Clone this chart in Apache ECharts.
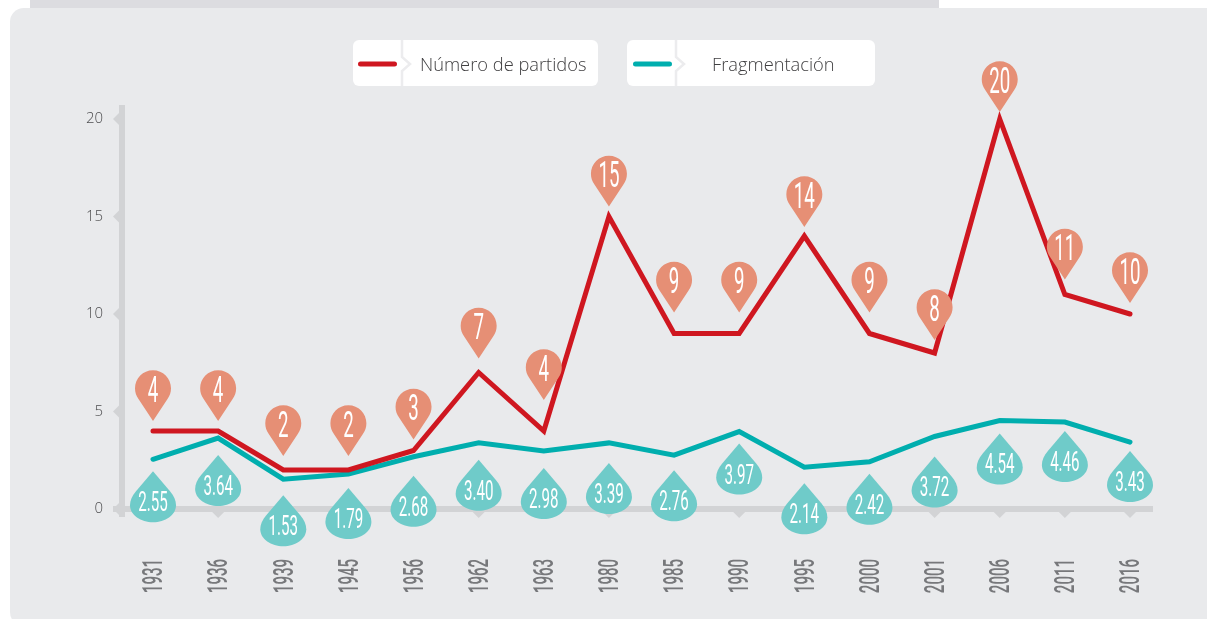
<!DOCTYPE html>
<html>
<head>
<meta charset="utf-8">
<style>html,body{margin:0;padding:0;background:#fff}#c{width:1207px;height:619px}</style>
<script src="https://cdn.jsdelivr.net/npm/echarts@6/dist/echarts.min.js"></script>
</head>
<body>
<div id="c"></div>
<script>
const years = ['1931','1936','1939','1945','1956','1962','1963','1980','1985','1990','1995','2000','2001','2006','2011','2016'];
const partidos = [4,4,2,2,3,7,4,15,9,9,14,9,8,20,11,10];
const fragmentacion = [2.55,3.64,1.53,1.79,2.68,3.40,2.98,3.39,2.76,3.97,2.14,2.42,3.72,4.54,4.46,3.43];
const yTicks = [0,5,10,15,20];
// visual gaps, in px, between the lines and the tip of each marker
const dropGaps = [12,17,16,14,19,17,17,20,15,12,16,12,20,13,9,9];
const pinGaps = [10,10,14,14,11,14,31,10,21,21,9,21,13,7,15,11];

const RED='#cf1720', TEAL='#00aeae', PIN='#e68f75', DROP='#6fcbc9', AXIS='#d2d3d5', PANEL='#e9eaec', GREY='#77787b';
const CONDENSED='Roboto';
const PIN_PATH='M0 0L-14.5 -22C-16.8 -25 -18 -28.5 -18 -32.7C-18 -42.6 -10 -50.7 0 -50.7C10 -50.7 18 -42.6 18 -32.7C18 -28.5 16.8 -25 14.5 -22Z';
const DROP_PATH='M0 0L17 20C21 25 23 29 23 34C23 44 12 51 0 51C-12 51 -23 44 -23 34C-23 29 -21 25 -17 20Z';
const LEGEND_ICON='path://M2.5 0H36.5A2.5 2.5 0 0 1 36.5 5H2.5A2.5 2.5 0 0 1 2.5 0ZM0 9L39 9';

function pinItem(p, api){
  const pt = api.coord([api.value(0), api.value(1)]);
  return {type:'group', x:pt[0], y:pt[1]-pinGaps[p.dataIndex], children:[
    {type:'path', shape:{pathData:PIN_PATH, layout:'cover', x:-18, y:-50.7, width:36, height:50.7}, style:{fill:PIN}},
    {type:'text', x:0, y:-28.5, scaleX:0.52, style:{text:String(partidos[p.dataIndex]), fill:'#fff', font:'400 36px '+CONDENSED, align:'center', verticalAlign:'middle'}}
  ]};
}
function dropItem(p, api){
  const pt = api.coord([api.value(0), api.value(1)]);
  return {type:'group', x:pt[0], y:pt[1]+dropGaps[p.dataIndex], children:[
    {type:'path', shape:{pathData:DROP_PATH, layout:'cover', x:-23, y:0, width:46, height:51}, style:{fill:DROP}},
    {type:'text', x:0, y:33, scaleX:0.54, style:{text:fragmentacion[p.dataIndex].toFixed(2), fill:'#fff', font:'400 28px '+CONDENSED, align:'center', verticalAlign:'middle'}}
  ]};
}
function xTickItem(p, api){
  const pt = api.coord([api.value(0), 0]);
  return {type:'group', x:pt[0], y:pt[1], children:[
    {type:'polygon', shape:{points:[[-6,3],[6,3],[0,9]]}, style:{fill:AXIS}},
    {type:'text', x:2.5, y:67, rotation:Math.PI/2, scaleX:0.56, style:{text:years[p.dataIndex], fill:GREY, font:'500 27px '+CONDENSED, align:'center', verticalAlign:'middle'}}
  ]};
}
function yTickItem(p, api){
  const pt = api.coord([0, api.value(0)]);
  return {type:'polygon', x:pt[0]-34, y:pt[1], shape:{points:[[0,-6],[0,6],[-6,0]]}, style:{fill:AXIS}};
}

const legendText = leftPad => ({color:'#414042', fontFamily:'"Open Sans"', fontWeight:300, fontSize:18.3, padding:[0,0,0,leftPad]});
const chart = echarts.init(document.getElementById('c'), null, {renderer:'canvas'});
const indexed = v => v.map((d,i)=>[i,d]);
chart.setOption({
  animation:false,
  backgroundColor:'#fff',
  grid:{left:153, right:77, top:119, bottom:110},
  xAxis:{type:'category', data:years, boundaryGap:false, axisLine:{show:false}, axisTick:{show:false}, axisLabel:{show:false}},
  yAxis:{type:'value', min:0, max:20, interval:5, splitLine:{show:false}, axisLine:{show:false}, axisTick:{show:false},
    axisLabel:{margin:50, color:'#4d4d4f', fontFamily:'"Open Sans"', fontWeight:300, fontSize:15, padding:[2,0,0,0]}},
  legend:[
    {data:['Número de partidos'], left:353, top:52, icon:LEGEND_ICON, itemWidth:39, itemHeight:9, textStyle:legendText(18)},
    {data:['Fragmentación'], left:628, top:52, icon:LEGEND_ICON, itemWidth:39, itemHeight:9, textStyle:legendText(35)}
  ],
  graphic:[
    {type:'rect', z:-10, shape:{x:30,y:0,width:909,height:8}, style:{fill:'#dcdce0'}},
    {type:'rect', z:-9, shape:{x:10,y:8,width:1230,height:618,r:14}, style:{fill:PANEL}},
    {type:'rect', z:-8, shape:{x:353,y:40,width:245,height:46,r:6}, style:{fill:'#fff'}},
    {type:'rect', z:-8, shape:{x:627,y:40,width:248,height:46,r:6}, style:{fill:'#fff'}},
    {type:'polyline', z:-7, shape:{points:[[402,40],[402,57],[410,64],[402,71],[402,86]]}, style:{fill:null,stroke:'#ececee',lineWidth:2.5}},
    {type:'polyline', z:-7, shape:{points:[[676,40],[676,57],[684,64],[676,71],[676,86]]}, style:{fill:null,stroke:'#ececee',lineWidth:2.5}},
    {type:'rect', z:-6, shape:{x:119,y:105,width:6,height:412}, style:{fill:AXIS}},
    {type:'rect', z:-6, shape:{x:113,y:506,width:1040,height:6}, style:{fill:AXIS}}
  ],
  series:[
    {type:'custom', name:'yTicks', z:1, silent:true, data:yTicks.map(v=>[v]), encode:{y:0}, renderItem:yTickItem},
    {type:'custom', name:'xTicks', z:1, silent:true, data:indexed(partidos), encode:{x:0,y:1}, renderItem:xTickItem},
    {type:'custom', name:'dropMarkers', z:2, silent:true, data:indexed(fragmentacion), encode:{x:0,y:1}, renderItem:dropItem},
    {type:'line', name:'Fragmentación', z:5, data:fragmentacion, symbol:'none', clip:false, itemStyle:{color:TEAL}, lineStyle:{color:TEAL,width:5,cap:'round',join:'miter'}},
    {type:'line', name:'Número de partidos', z:6, data:partidos, symbol:'none', clip:false, itemStyle:{color:RED}, lineStyle:{color:RED,width:5,cap:'round',join:'miter'}},
    {type:'custom', name:'pinMarkers', z:7, silent:true, data:indexed(partidos), encode:{x:0,y:1}, renderItem:pinItem}
  ]
});
</script>
</body>
</html>
